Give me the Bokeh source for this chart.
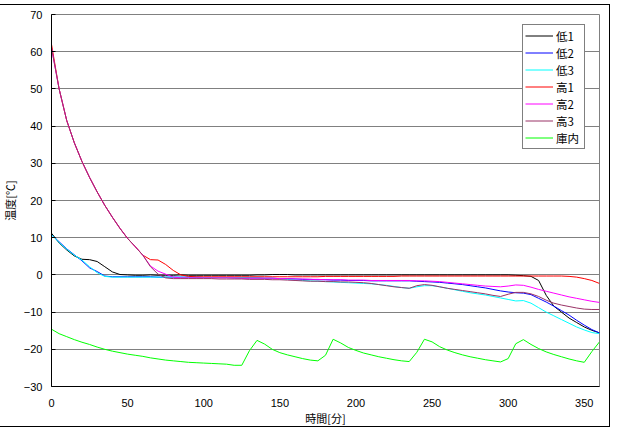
from bokeh.plotting import figure
from bokeh.models import Range1d, Legend, LegendItem, FixedTicker
from bokeh.embed import file_html
from bokeh.resources import INLINE

# time [min]
time_min = [
    0, 5, 10, 15, 20, 25, 30, 35, 40, 45,
    50, 55, 60, 65, 70, 75, 80, 85, 90, 95,
    100, 105, 110, 115, 120, 125, 130, 135, 140, 145,
    150, 155, 160, 165, 170, 175, 180, 185, 190, 195,
    200, 205, 210, 215, 220, 225, 230, 235, 240, 245,
    250, 255, 260, 265, 270, 275, 280, 285, 290, 295,
    300, 305, 310, 315, 320, 325, 330, 335, 340, 345,
    350, 355, 360,
]

low1 = [
    11.2, 8.6, 6.7, 5.1, 4.2, 4.1, 3.6, 2.2, 0.8, 0.1,
    0.0, -0.1, -0.1, 0.0, -0.1, -0.1, -0.1, 0.0, -0.1, -0.1,
    -0.1, -0.1, -0.1, -0.1, -0.1, -0.1, -0.1, 0.0, 0.0, 0.1,
    0.1, 0.1, 0.0, 0.0, 0.0, 0.0, 0.0, 0.0, 0.0, 0.0,
    0.0, 0.0, 0.0, 0.0, 0.0, 0.0, 0.0, 0.0, 0.0, 0.0,
    0.0, 0.0, 0.0, 0.0, 0.0, 0.0, 0.0, 0.0, 0.0, 0.0,
    0.0, -0.1, -0.2, -0.4, -1.5, -5.5, -8.4, -10.0, -11.6, -12.8,
    -14.0, -14.9, -15.6,
]

low2 = [
    10.8, 8.9, 7.0, 5.4, 3.8, 1.9, 0.9, -0.3, -0.5, -0.5,
    -0.5, -0.5, -0.5, -0.5, -0.6, -0.6, -0.6, -0.6, -0.6, -0.6,
    -0.7, -0.7, -0.7, -0.7, -0.8, -0.8, -0.8, -0.8, -0.9, -0.9,
    -1.0, -1.0, -1.1, -1.2, -1.2, -1.3, -1.3, -1.4, -1.4, -1.5,
    -1.5, -1.5, -1.6, -1.6, -1.6, -1.6, -1.6, -1.6, -1.7, -1.8,
    -1.9, -2.0, -2.2, -2.4, -2.6, -2.9, -3.2, -3.5, -3.9, -4.3,
    -4.6, -4.8, -4.9, -5.3, -6.3, -7.3, -8.4, -9.6, -10.8, -12.2,
    -13.5, -14.7, -15.6,
]

low3 = [
    10.8, 8.7, 6.9, 5.3, 4.0, 2.2, 0.6, -0.4, -0.6, -0.6,
    -0.6, -0.6, -0.6, -0.6, -0.6, -0.6, -0.6, -0.6, -0.6, -0.6,
    -0.7, -0.7, -0.7, -0.7, -0.7, -0.7, -0.8, -0.8, -0.9, -0.9,
    -1.0, -1.2, -1.3, -1.5, -1.6, -1.7, -1.8, -1.9, -2.0, -2.1,
    -2.2, -2.3, -2.4, -2.6, -2.8, -3.1, -3.4, -3.6, -3.2, -2.9,
    -2.9, -3.2, -3.6, -4.0, -4.4, -4.8, -5.1, -5.4, -5.8, -6.2,
    -6.6, -7.0, -6.9, -7.6, -8.8, -10.0, -11.0, -12.0, -13.0, -14.0,
    -14.8, -15.5, -15.8,
]

high1 = [
    62.0, 50.0, 41.5, 35.5, 30.5, 26.2, 22.3, 18.7, 15.5, 12.5,
    9.8, 7.6, 5.3, 4.1, 4.0, 2.8, 1.2, 0.0, -0.4, -0.5,
    -0.5, -0.5, -0.5, -0.5, -0.5, -0.5, -0.5, -0.5, -0.5, -0.5,
    -0.5, -0.5, -0.5, -0.5, -0.5, -0.5, -0.4, -0.4, -0.4, -0.4,
    -0.4, -0.4, -0.4, -0.4, -0.4, -0.4, -0.3, -0.3, -0.3, -0.3,
    -0.3, -0.3, -0.3, -0.3, -0.3, -0.3, -0.3, -0.3, -0.3, -0.3,
    -0.3, -0.3, -0.3, -0.3, -0.3, -0.3, -0.3, -0.3, -0.4, -0.6,
    -1.0, -1.5, -2.3,
]

high2 = [
    61.0, 50.0, 41.5, 35.5, 30.5, 26.2, 22.3, 18.7, 15.5, 12.5,
    9.8, 7.6, 5.3, 2.4, 1.0, 0.2, -0.6, -0.8, -0.8, -0.8,
    -0.8, -0.8, -0.8, -0.8, -0.8, -0.9, -0.9, -0.9, -0.9, -0.9,
    -1.0, -1.0, -1.1, -1.1, -1.2, -1.2, -1.3, -1.3, -1.3, -1.4,
    -1.4, -1.4, -1.5, -1.5, -1.5, -1.5, -1.5, -1.5, -1.6, -1.6,
    -1.7, -1.8, -2.0, -2.2, -2.4, -2.6, -2.8, -3.0, -3.1, -3.2,
    -3.0, -2.7, -2.8, -3.3, -3.9, -4.4, -4.9, -5.4, -5.9, -6.3,
    -6.7, -7.1, -7.4,
]

high3 = [
    61.0, 50.0, 41.5, 35.5, 30.5, 26.2, 22.3, 18.7, 15.5, 12.5,
    9.8, 7.6, 5.3, 2.2, 0.2, -0.8, -1.0, -1.0, -1.0, -1.0,
    -1.0, -1.0, -1.1, -1.1, -1.1, -1.1, -1.2, -1.2, -1.2, -1.3,
    -1.3, -1.4, -1.5, -1.6, -1.7, -1.7, -1.8, -1.8, -1.9, -1.9,
    -2.0, -2.1, -2.3, -2.6, -2.9, -3.2, -3.4, -3.6, -2.9, -2.6,
    -2.8, -3.2, -3.6, -3.9, -4.2, -4.5, -4.8, -5.1, -5.5, -5.8,
    -5.2, -4.7, -4.7, -5.1, -5.8, -6.8, -7.6, -8.1, -8.5, -8.9,
    -9.2, -9.3, -9.3,
]

inside = [
    -14.6, -15.8, -16.6, -17.4, -18.1, -18.7, -19.4, -20.0, -20.5, -20.9,
    -21.3, -21.6, -21.9, -22.3, -22.6, -22.9, -23.1, -23.3, -23.5, -23.6,
    -23.7, -23.8, -23.9, -24.0, -24.3, -24.3, -20.4, -17.6, -18.6, -20.0,
    -20.9, -21.5, -22.0, -22.5, -22.9, -23.1, -21.6, -17.3, -18.3, -19.5,
    -20.3, -21.0, -21.5, -22.0, -22.4, -22.8, -23.1, -23.3, -20.8, -17.3,
    -18.0, -19.3, -20.2, -20.9, -21.5, -22.0, -22.4, -22.8, -23.1, -23.4,
    -22.5, -18.5, -17.4, -18.7, -19.8, -20.7, -21.4, -22.0, -22.6, -23.1,
    -23.5, -20.6, -18.0,
]

series_names = ["低1", "低2", "低3", "高1", "高2", "高3", "庫内"]
series_values = [low1, low2, low3, high1, high2, high3, inside]
series_colors = ["#000000", "#0000FF", "#00FFFF", "#FF0000", "#FF00FF", "#993366", "#00FF00"]

x_ticks = [0, 50, 100, 150, 200, 250, 300, 350]
y_ticks = [-30, -20, -10, 0, 10, 20, 30, 40, 50, 60, 70]

CJK = "Noto Sans CJK JP"
NUM = "Liberation Sans"

p = figure(width=613, height=423, output_backend="svg", toolbar_location=None,
           x_range=Range1d(0, 360), y_range=Range1d(-30, 70),
           min_border_left=45, min_border_right=12, min_border_top=9, min_border_bottom=42)
p.styles = {"border": "1px solid black", "vertical-align": "top",
            "margin-top": "4px", "margin-left": "-3px"}
p.background_fill_color = "white"
p.border_fill_color = "white"
p.outline_line_color = "#808080"
p.outline_line_width = 1

p.xgrid.visible = False
p.ygrid.grid_line_color = "#808080"
p.ygrid.grid_line_width = 1
p.ygrid.ticker = FixedTicker(ticks=y_ticks)

p.xaxis.ticker = FixedTicker(ticks=x_ticks)
p.yaxis.ticker = FixedTicker(ticks=y_ticks)
for ax in (p.xaxis[0], p.yaxis[0]):
    ax.axis_line_color = "black"
    ax.axis_line_width = 1
    ax.major_tick_line_color = "black"
    ax.minor_tick_line_color = None
    ax.major_label_text_font = NUM
    ax.major_label_text_font_size = "11px"
    ax.major_label_text_color = "black"
    ax.axis_label_text_font = CJK
    ax.axis_label_text_font_size = "11px"
    ax.axis_label_text_font_style = "normal"
    ax.axis_label_text_color = "black"

p.xaxis.major_tick_in = 0
p.xaxis.major_tick_out = 0
p.xaxis.major_label_standoff = 12
p.xaxis.axis_label = "時間[分]"
p.xaxis.axis_label_standoff = 0

p.yaxis.major_tick_in = 4
p.yaxis.major_tick_out = 0
p.yaxis.major_label_standoff = 9
p.yaxis.axis_label = "温度[℃]"
p.yaxis.axis_label_standoff = 3

items = []
for name, vals, col in zip(series_names, series_values, series_colors):
    r = p.line(time_min, vals, line_color=col, line_width=1)
    items.append(LegendItem(label=name, renderers=[r]))

legend = Legend(items=items, location=(471, 237))
legend.border_line_color = "black"
legend.border_line_width = 1
legend.background_fill_color = "white"
legend.background_fill_alpha = 1
legend.label_text_font = CJK
legend.label_text_font_size = "11.5px"
legend.label_text_color = "black"
legend.label_height = 17
legend.glyph_height = 17
legend.glyph_width = 28
legend.label_width = 26
legend.label_standoff = 3
legend.spacing = 0
legend.padding = 2
legend.margin = 0
p.add_layout(legend)

open("out.html", "w").write(file_html(p, INLINE))
